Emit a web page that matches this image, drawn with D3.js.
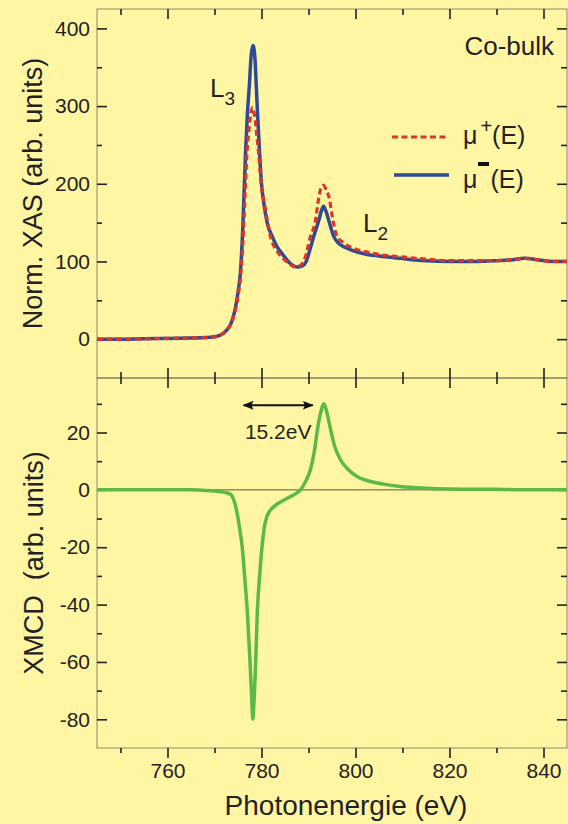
<!DOCTYPE html>
<html>
<head>
<meta charset="utf-8">
<script src="https://cdn.jsdelivr.net/npm/d3@7"></script>
<style>
  body { margin: 0; background: #fff6a3; }
  svg text { font-family: "Liberation Sans", Arial, sans-serif; fill: #222; }
</style>
</head>
<body>
<div id="chart"></div>
<script>
"use strict";

// mu+ (red dashed)
var energyPlus = [745, 750, 755, 760, 765, 768, 770, 771.5, 772.5, 773.5, 774.3, 775, 775.5, 776, 776.6, 776.9, 777.3, 777.6, 778.1, 778.6, 779.0, 779.4, 780, 780.6, 781.9, 782.8, 783.7, 785.3, 787.3, 788.3, 789.3, 790.4, 791.5, 792.1, 792.7, 793.2, 793.7, 794.5, 795, 796.1, 797.5, 799.5, 802.5, 806, 809.6, 815, 820, 825, 830, 833, 836, 839, 842, 845];
var muPlus = [0, 0, 0.5, 1, 1.5, 2, 3, 6, 11, 20, 34, 55, 78, 120, 200, 239, 268, 285, 298, 285, 262, 239, 195, 175, 132, 118, 110, 100, 93, 95, 105, 132, 153, 179, 195, 198, 193, 179, 160, 132, 124, 117, 112, 108, 106, 103, 101, 101, 101, 102, 104, 102, 100, 100];

// mu- (blue solid)
var energyMinus = [745, 750, 755, 760, 765, 768, 770, 771.5, 772.5, 773.5, 774.3, 775, 775.5, 776, 776.6, 777, 777.4, 777.8, 778.2, 778.6, 778.9, 779.2, 779.6, 780, 780.5, 781.2, 782.3, 783.2, 784.4, 786, 787.6, 788.6, 789.5, 790.3, 791.1, 792.2, 792.8, 793.2, 793.7, 794.3, 795.4, 796.3, 797.5, 799, 801.8, 805, 809.6, 815, 820, 825, 830, 833, 836, 839, 842, 845];
var muMinus = [0, 0, 0.5, 1, 1.5, 2, 3, 6, 11, 20, 36, 60, 85, 140, 239, 290, 325, 365, 378, 362, 325, 285, 239, 200, 175, 150, 132, 120, 110, 98, 93, 94, 100, 115, 132, 153, 166, 171, 165, 153, 132, 124, 119, 115, 110, 107, 104, 101, 100, 100, 101, 102, 104, 102, 100, 100];

// XMCD (green)
var energyXmcd = [745, 750, 755, 760, 765, 768, 770, 772, 773.4, 774.2, 774.8, 775.4, 775.9, 776.5, 777, 777.5, 777.9, 778.15, 778.4, 778.8, 779.1, 779.6, 780.1, 780.6, 781.2, 782.2, 783.3, 784.8, 786.2, 787.3, 788.3, 789.4, 790.4, 791.2, 791.9, 792.6, 793.3, 793.9, 794.7, 795.6, 796.8, 798.5, 800.4, 803, 806, 809.6, 815, 820, 825, 830, 835, 840, 845];
var xmcd = [0, 0, 0, 0, 0, -0.2, -0.4, -0.8, -1.5, -4, -8, -14, -20, -32, -43, -58, -72, -80, -74, -58, -43, -30, -20, -13, -9, -6.5, -5, -3.5, -2.3, -1.3, 0, 3, 7, 13, 21, 27, 30, 27, 21, 15, 10.5, 7, 4.6, 3, 2, 1.2, 0.6, 0.3, 0.2, 0.2, 0, 0, 0];

var xMajor = [760, 780, 800, 820, 840];
var xMinor = [750, 770, 790, 810, 830];
var xasMajor = [0, 100, 200, 300, 400];
var xasMinor = [50, 150, 250, 350];
var xmcdMajor = [-80, -60, -40, -20, 0, 20];
var xmcdMinor = [-70, -50, -30, -10, 10, 30];

// splitting arrow between L3 and L2
var splitFrom = 776.2, splitTo = 790.9, splitLevel = 29.5, splitLabel = "15.2eV";

function drawChart() {
    var w = 568, h = 824;
    var left = 97, right = 567, top = 9, mid = 378, bottom = 748;

    var svg = d3.select("#chart").append("svg")
        .attr("width", w).attr("height", h);

    svg.append("rect").attr("width", w).attr("height", h).attr("fill", "#fff6a3");

    var x = d3.scaleLinear().domain([745, 845]).range([left, right]);
    var yTop = d3.scaleLinear().domain([-50, 425]).range([mid, top]);
    var yBot = d3.scaleLinear().domain([-90, 39]).range([bottom, mid]);

    // frames
    svg.append("rect").attr("x", left).attr("y", top)
        .attr("width", right - left).attr("height", bottom - top)
        .attr("fill", "none").attr("stroke", "#8c8a6a").attr("stroke-width", 1);
    svg.append("line").attr("x1", left).attr("x2", right)
        .attr("y1", mid).attr("y2", mid)
        .attr("stroke", "#444").attr("stroke-width", 1.2);

    // zero line in xmcd panel
    svg.append("line").attr("x1", left).attr("x2", right)
        .attr("y1", yBot(0)).attr("y2", yBot(0))
        .attr("stroke", "#5a5a3a").attr("stroke-width", 1);

    function ticks(g) {
        g.select(".domain").remove();
        g.selectAll(".tick line").attr("stroke", "#222").attr("stroke-width", 1.6);
        g.selectAll(".tick text").attr("font-size", 21).attr("fill", "#2a2a2a");
    }

    // x ticks: top of upper panel (inward), both sides of middle, bottom (outward)
    svg.append("g").attr("transform", "translate(0," + top + ")")
        .call(d3.axisTop(x).tickValues(xMajor).tickSize(-10).tickFormat("")).call(ticks);
    svg.append("g").attr("transform", "translate(0," + top + ")")
        .call(d3.axisTop(x).tickValues(xMinor).tickSize(-6).tickFormat("")).call(ticks);
    svg.append("g").attr("transform", "translate(0," + mid + ")")
        .call(d3.axisBottom(x).tickValues(xMajor).tickSize(-10).tickFormat("")).call(ticks);
    svg.append("g").attr("transform", "translate(0," + mid + ")")
        .call(d3.axisBottom(x).tickValues(xMinor).tickSize(-6).tickFormat("")).call(ticks);
    svg.append("g").attr("transform", "translate(0," + mid + ")")
        .call(d3.axisTop(x).tickValues(xMajor).tickSize(-10).tickFormat("")).call(ticks);
    svg.append("g").attr("transform", "translate(0," + mid + ")")
        .call(d3.axisTop(x).tickValues(xMinor).tickSize(-6).tickFormat("")).call(ticks);
    svg.append("g").attr("transform", "translate(0," + bottom + ")")
        .call(d3.axisBottom(x).tickValues(xMajor).tickSize(10).tickPadding(5).tickFormat(d3.format("d"))).call(ticks);
    svg.append("g").attr("transform", "translate(0," + bottom + ")")
        .call(d3.axisBottom(x).tickValues(xMinor).tickSize(5).tickFormat("")).call(ticks);

    // y ticks, inward on both sides
    var yPanels = [[yTop, xasMajor, xasMinor], [yBot, xmcdMajor, xmcdMinor]];
    yPanels.forEach(function(p) {
        var gl = svg.append("g").attr("transform", "translate(" + left + ",0)")
            .call(d3.axisLeft(p[0]).tickValues(p[1]).tickSize(-10)
                .tickFormat(function(d){ return d; })).call(ticks);
        gl.selectAll(".tick text").attr("x", -7);
        svg.append("g").attr("transform", "translate(" + left + ",0)")
            .call(d3.axisLeft(p[0]).tickValues(p[2]).tickSize(-5).tickFormat("")).call(ticks);
        svg.append("g").attr("transform", "translate(" + right + ",0)")
            .call(d3.axisRight(p[0]).tickValues(p[1]).tickSize(-10).tickFormat("")).call(ticks);
        svg.append("g").attr("transform", "translate(" + right + ",0)")
            .call(d3.axisRight(p[0]).tickValues(p[2]).tickSize(-6).tickFormat("")).call(ticks);
    });

    // curves
    var lineTop = d3.line().curve(d3.curveMonotoneX)
        .x(function(d){ return x(d[0]); })
        .y(function(d){ return yTop(d[1]); });
    var lineBot = d3.line().curve(d3.curveMonotoneX)
        .x(function(d){ return x(d[0]); })
        .y(function(d){ return yBot(d[1]); });

    svg.append("path").datum(d3.zip(energyMinus, muMinus))
        .attr("d", lineTop).attr("fill", "none")
        .attr("stroke", "#2d4a96").attr("stroke-width", 3.5).attr("stroke-linejoin", "round");
    svg.append("path").datum(d3.zip(energyPlus, muPlus))
        .attr("d", lineTop).attr("fill", "none")
        .attr("stroke", "#d9352b").attr("stroke-width", 3.2)
        .attr("stroke-dasharray", "6,3.5");
    svg.append("path").datum(d3.zip(energyXmcd, xmcd))
        .attr("d", lineBot).attr("fill", "none")
        .attr("stroke", "#5cb947").attr("stroke-width", 3.5).attr("stroke-linejoin", "round");

    // axis titles
    svg.append("text").attr("transform", "translate(42," + ((top + mid) / 2) + ") rotate(-90)")
        .attr("text-anchor", "middle").attr("font-size", 27).text("Norm. XAS (arb. units)");
    svg.append("text").attr("transform", "translate(43," + ((mid + bottom) / 2) + ") rotate(-90)")
        .attr("text-anchor", "middle").attr("font-size", 27).attr("xml:space", "preserve")
        .text("XMCD  (arb. units)");
    svg.append("text").attr("x", (left + right) / 2 + 14).attr("y", 815)
        .attr("text-anchor", "middle").attr("font-size", 28).text("Photonenergie (eV)");

    // labels
    svg.append("text").attr("x", 554).attr("y", 55).attr("text-anchor", "end")
        .attr("font-size", 26).text("Co-bulk");

    var l3 = svg.append("text").attr("x", 210).attr("y", 97).attr("font-size", 26);
    l3.append("tspan").text("L");
    l3.append("tspan").attr("font-size", 19).attr("dy", 8).text("3");
    var l2 = svg.append("text").attr("x", 363).attr("y", 232).attr("font-size", 26);
    l2.append("tspan").text("L");
    l2.append("tspan").attr("font-size", 19).attr("dy", 8).text("2");

    // legend
    svg.append("line").attr("x1", 392).attr("x2", 446).attr("y1", 137).attr("y2", 137)
        .attr("stroke", "#d9352b").attr("stroke-width", 3.2).attr("stroke-dasharray", "6,3.5");
    svg.append("line").attr("x1", 394).attr("x2", 449).attr("y1", 175).attr("y2", 175)
        .attr("stroke", "#2d4a96").attr("stroke-width", 3.5);
    var lp = svg.append("text").attr("x", 463).attr("y", 144).attr("font-size", 25);
    lp.append("tspan").text("\u03bc");
    lp.append("tspan").attr("font-size", 20).attr("dx", 3).attr("dy", -11).text("+");
    lp.append("tspan").attr("dy", 11).text("(E)");
    var lm = svg.append("text").attr("x", 463).attr("y", 188).attr("font-size", 25);
    lm.append("tspan").text("\u03bc");
    lm.append("tspan").attr("dx", 13).text("(E)");
    svg.append("rect").attr("x", 478).attr("y", 162).attr("width", 11).attr("height", 4).attr("fill", "#111");

    // 15.2 eV splitting
    var defs = svg.append("defs");
    defs.append("marker").attr("id", "head").attr("viewBox", "0 0 10 10")
        .attr("refX", 9).attr("refY", 5).attr("markerWidth", 5).attr("markerHeight", 5)
        .attr("orient", "auto-start-reverse")
        .append("path").attr("d", "M0,1 L10,5 L0,9 L2,5 z").attr("fill", "#111");
    svg.append("line")
        .attr("x1", x(splitFrom)).attr("x2", x(splitTo))
        .attr("y1", yBot(splitLevel)).attr("y2", yBot(splitLevel))
        .attr("stroke", "#111").attr("stroke-width", 2.2)
        .attr("marker-start", "url(#head)").attr("marker-end", "url(#head)");
    svg.append("text").attr("x", x((splitFrom + splitTo) / 2)).attr("y", 439)
        .attr("text-anchor", "middle").attr("font-size", 21)
        .text(splitLabel);
}

function init() {
    drawChart();
}

window.onload = init;
</script>
</body>
</html>
